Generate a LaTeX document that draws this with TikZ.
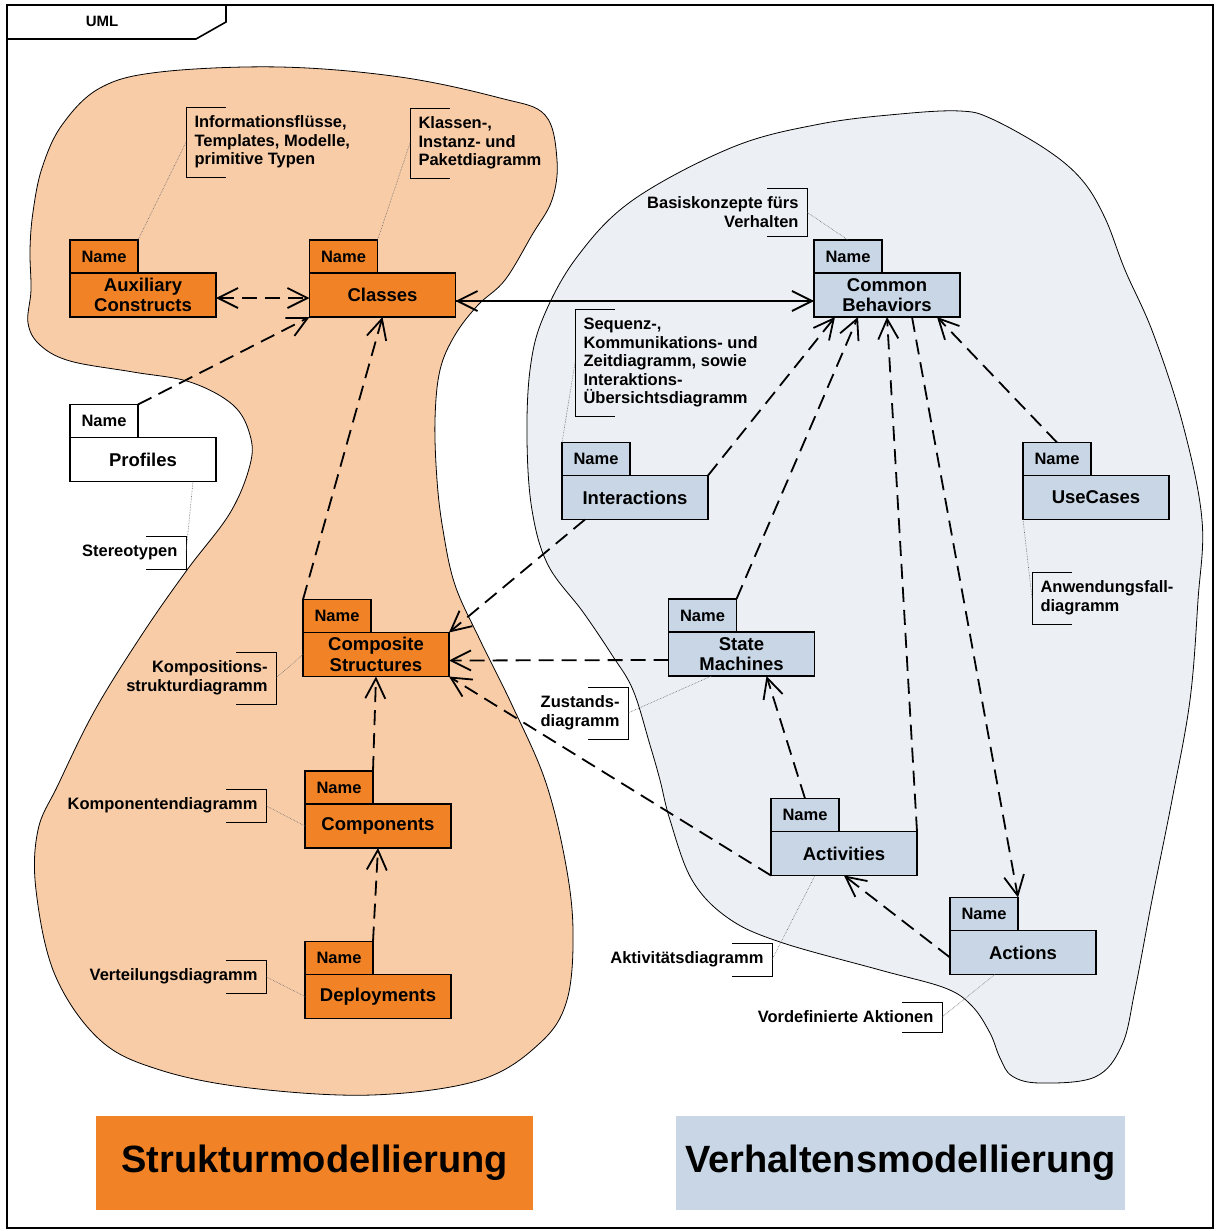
\documentclass[tikz,border=0pt]{standalone}
\usepackage{fontspec}
\setmainfont{Liberation Sans}
\usetikzlibrary{positioning,arrows.meta}

\definecolor{pkgorange}{RGB}{241,131,38}
\definecolor{pkgblue}{RGB}{200,214,230}
\definecolor{structbg}{RGB}{249,204,168}
\definecolor{behavbg}{RGB}{236,240,245}

\tikzset{
  pkgbody/.style={draw, line width=1.6pt, minimum width=146pt, minimum height=44pt,
    inner sep=1pt, outer sep=0pt, align=center, font=\bfseries\fontsize{18.5}{20.5}\selectfont},
  pkgtab/.style={draw, line width=1.6pt, minimum width=68pt, minimum height=33pt,
    inner sep=1pt, outer sep=0pt, font=\bfseries\fontsize{16.5}{18}\selectfont},
  struct/.style={fill=pkgorange},
  behav/.style={fill=pkgblue},
  nofill/.style={fill=white},
  notebox/.style={inner xsep=8.5pt, inner ysep=9pt, outer sep=0pt,
    font=\bfseries\fontsize{16.5}{18.5}\selectfont},
  bracket/.style={line width=0.8pt},
  link/.style={densely dotted, line width=0.6pt, black!60},
  dep/.style={->, line width=1.8pt, dash pattern=on 15pt off 8pt},
  titlebox/.style={minimum height=94pt, inner sep=0pt, font=\bfseries\fontsize{38}{40}\selectfont}
}

\begin{document}
\begin{tikzpicture}[x=1pt, y=-1pt, >={Straight Barb[length=20pt,width=20pt]}]
  \useasboundingbox (0,0) rectangle (1215,1231);

  % frame
  \draw[line width=1.6pt] (7,5) rectangle (1213,1228);
  \draw[line width=1.6pt] (7,39) -- (196,39) -- (226,22) -- (226,5);
  \node (uml) at (102,21) {\bfseries\fontsize{15}{16}\selectfont UML};

  % the two areas
  \draw[fill=structbg, line width=0.8pt] plot[smooth cycle, tension=0.6] coordinates {
    (28,323) (31,290) (30,250) (33,212) (42,168) (62,125) (100,88) (160,72)
    (280,67) (400,77) (500,98) (545,115) (557,160) (552,200) (532,235) (505,280)
    (478,305) (455,335) (440,370) (435,420) (437,480) (443,530) (455,585) (480,640)
    (512,705) (545,780) (565,860) (573,930) (567,1000) (540,1043) (480,1080) (372,1095)
    (250,1088) (160,1070) (100,1040) (55,975) (36,890) (38,830) (58,785) (95,710)
    (143,633) (187,570) (230,513) (250,465) (250,435) (233,405) (190,382) (133,372)
    (70,361) (40,345)};
  \draw[fill=behavbg, line width=0.8pt] plot[smooth cycle, tension=0.6] coordinates {
    (733,147) (820,124) (900,114) (960,111) (992,119) (1047,150) (1082,180) (1105,218)
    (1125,270) (1153,333) (1183,425) (1202,520) (1198,600) (1190,700) (1172,800)
    (1152,900) (1135,990) (1122,1045) (1095,1077) (1040,1083) (1012,1076) (1000,1058)
    (990,1033) (972,1006) (945,988) (880,970) (780,942) (728,918) (692,880) (670,820)
    (660,780) (650,745) (633,690) (612,655) (583,612) (548,565) (532,510) (527,440)
    (530,370) (543,318) (577,257) (633,200)};

  % packages
  \node (aux) [pkgbody, struct] at (143,295) {Auxiliary\\Constructs};
  \node (aux-tab) [pkgtab, struct, above right=0pt and 0pt of aux.north west] {Name};
  \node (classes) [pkgbody, struct] at (382.5,295) {Classes};
  \node (classes-tab) [pkgtab, struct, above right=0pt and 0pt of classes.north west] {Name};
  \node (profiles) [pkgbody, nofill] at (143,459.5) {Profiles};
  \node (profiles-tab) [pkgtab, nofill, above right=0pt and 0pt of profiles.north west] {Name};
  \node (composite) [pkgbody, struct] at (376,654.5) {Composite\\Structures};
  \node (composite-tab) [pkgtab, struct, above right=0pt and 0pt of composite.north west] {Name};
  \node (components) [pkgbody, struct] at (378,826) {Components};
  \node (components-tab) [pkgtab, struct, above right=0pt and 0pt of components.north west] {Name};
  \node (deployments) [pkgbody, struct] at (378,996.5) {Deployments};
  \node (deployments-tab) [pkgtab, struct, above right=0pt and 0pt of deployments.north west] {Name};

  \node (cb) [pkgbody, behav] at (887,295) {Common\\Behaviors};
  \node (cb-tab) [pkgtab, behav, above right=0pt and 0pt of cb.north west] {Name};
  \node (interactions) [pkgbody, behav] at (635,497.5) {Interactions};
  \node (interactions-tab) [pkgtab, behav, above right=0pt and 0pt of interactions.north west] {Name};
  \node (usecases) [pkgbody, behav] at (1096,497.5) {UseCases};
  \node (usecases-tab) [pkgtab, behav, above right=0pt and 0pt of usecases.north west] {Name};
  \node (sm) [pkgbody, behav] at (741.5,654) {State\\Machines};
  \node (sm-tab) [pkgtab, behav, above right=0pt and 0pt of sm.north west] {Name};
  \node (activities) [pkgbody, behav] at (844,853.5) {Activities};
  \node (activities-tab) [pkgtab, behav, above right=0pt and 0pt of activities.north west] {Name};
  \node (actions) [pkgbody, behav] at (1023,952.5) {Actions};
  \node (actions-tab) [pkgtab, behav, above right=0pt and 0pt of actions.north west] {Name};

  % notes
  \node (info) [notebox, align=left, anchor=north west] at (186,107) {Informationsflüsse,\\Templates, Modelle,\\primitive Typen};
  \node (klassen) [notebox, align=left, anchor=north west] at (410,108) {Klassen-,\\Instanz- und\\Paketdiagramm};
  \node (basis) [notebox, align=right, anchor=north east] at (807,188) {Basiskonzepte fürs\\Verhalten};
  \node (sequenz) [notebox, align=left, anchor=north west] at (575,309) {Sequenz-,\\Kommunikations- und\\Zeitdiagramm, sowie\\Interaktions-\\Übersichtsdiagramm};
  \node (stereo) [notebox, anchor=north east] at (186,536) {Stereotypen};
  \node (anwendung) [notebox, align=left, anchor=north west] at (1032,572) {Anwendungsfall-\\diagramm};
  \node (kompos) [notebox, align=right, anchor=north east] at (276,652) {Kompositions-\\strukturdiagramm};
  \node (zustand) [notebox, align=right, anchor=north east] at (628,687) {Zustands-\\diagramm};
  \node (kompon) [notebox, anchor=north east] at (266,789) {Komponentendiagramm};
  \node (verteil) [notebox, anchor=north east] at (266,960) {Verteilungsdiagramm};
  \node (aktiv) [notebox, anchor=north east] at (772,943) {Aktivitätsdiagramm};
  \node (vordef) [notebox, anchor=north east] at (942,1002) {Vordefinierte Aktionen};

  \draw[bracket] ([xshift=40pt]info.north west) -| (info.south west) -- ++(40pt,0);
  \draw[bracket] ([xshift=40pt]klassen.north west) -| (klassen.south west) -- ++(40pt,0);
  \draw[bracket] ([xshift=40pt]sequenz.north west) -| (sequenz.south west) -- ++(40pt,0);
  \draw[bracket] ([xshift=40pt]anwendung.north west) -| (anwendung.south west) -- ++(40pt,0);
  \draw[bracket] ([xshift=-40pt]basis.north east) -| (basis.south east) -- ++(-40pt,0);
  \draw[bracket] ([xshift=-40pt]stereo.north east) -| (stereo.south east) -- ++(-40pt,0);
  \draw[bracket] ([xshift=-40pt]kompos.north east) -| (kompos.south east) -- ++(-40pt,0);
  \draw[bracket] ([xshift=-40pt]zustand.north east) -| (zustand.south east) -- ++(-40pt,0);
  \draw[bracket] ([xshift=-40pt]kompon.north east) -| (kompon.south east) -- ++(-40pt,0);
  \draw[bracket] ([xshift=-40pt]verteil.north east) -| (verteil.south east) -- ++(-40pt,0);
  \draw[bracket] ([xshift=-40pt]aktiv.north east) -| (aktiv.south east) -- ++(-40pt,0);
  \draw[bracket] ([xshift=-40pt]vordef.north east) -| (vordef.south east) -- ++(-40pt,0);

  \path[link] (info.west) edge (aux-tab.north east)
              (klassen.west) edge (classes-tab.north east)
              (basis.east) edge (cb-tab.north)
              (sequenz.west) edge (interactions-tab.north west)
              (stereo.east) edge ([xshift=50pt]profiles.south)
              (anwendung.west) edge (usecases.south west)
              (kompos.east) edge (composite.west)
              (zustand.east) edge ([xshift=-30pt]sm.south)
              (kompon.east) edge (components.west)
              (verteil.east) edge (deployments.west)
              (aktiv.east) edge ([xshift=-29pt]activities.south)
              (vordef.east) edge ([xshift=-28pt]actions.south)
              ;

  % dependencies
  \path[dep] ([yshift=-3pt]aux.east) edge[<->] ([yshift=-3pt]classes.west)
             ([yshift=-6pt]classes.east) edge ([yshift=-6pt]cb.west)
             ([yshift=-6pt]cb.west) edge[dash phase=11pt] ([yshift=-6pt]classes.east)
             (profiles-tab.north east) edge (classes.south west)
             (composite-tab.north west) edge (classes.south)
             ([xshift=-50pt]interactions.south) edge (composite.north east)
             ([yshift=-6pt]sm.west) edge ([yshift=-6pt]composite.east)
             (activities.south west) edge (composite.south east)
             (components-tab.north east) edge (composite.south)
             (deployments-tab.north east) edge (components.south)
             (interactions.north east) edge ([xshift=-52pt]cb.south)
             (sm-tab.north east) edge ([xshift=-29pt]cb.south)
             (activities.north east) edge (cb.south)
             ([xshift=25pt]cb.south) edge (actions-tab.north east)
             (usecases-tab.north) edge ([xshift=50pt]cb.south)
             (activities-tab.north) edge ([xshift=25pt]sm.south)
             ([yshift=-5pt]actions.west) edge (activities.south)
             ;

  % titles
  \node (struktur) [titlebox, fill=pkgorange, minimum width=437pt] at (314.5,1163) {Strukturmodellierung};
  \node (verhalten) [titlebox, fill=pkgblue, minimum width=449pt] at (900.5,1163) {Verhaltensmodellierung};
\end{tikzpicture}
\end{document}
